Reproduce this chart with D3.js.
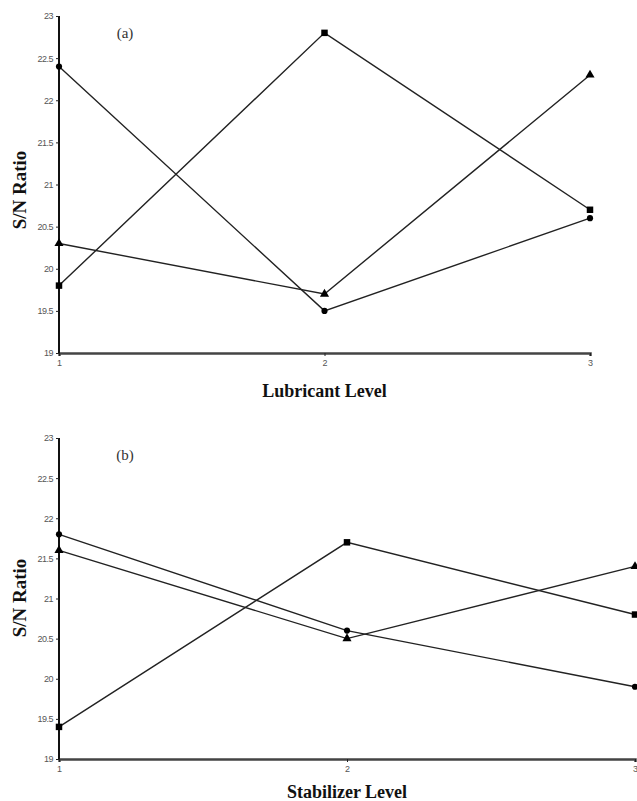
<!DOCTYPE html>
<html>
<head>
<meta charset="utf-8">
<script src="https://cdn.jsdelivr.net/npm/d3@7"></script>
<style>
  body { margin: 0; background: #fff; }
  .tick text { font-family: "Liberation Sans", Arial, sans-serif; fill: #555; }
</style>
</head>
<body>
<div id="chart"></div>
<script>
// ===========Data
var levels = [1, 2, 3];
var yTicks = [19, 19.5, 20, 20.5, 21, 21.5, 22, 22.5, 23];

// panel (a) - Lubricant Level
var lubCircle = [22.4, 19.5, 20.6];
var lubSquare = [19.8, 22.8, 20.7];
var lubTriangle = [20.3, 19.7, 22.3];

// panel (b) - Stabilizer Level
var stabCircle = [21.8, 20.6, 19.9];
var stabSquare = [19.4, 21.7, 20.8];
var stabTriangle = [21.6, 20.5, 21.4];

var svgWidth = 637;
var svgHeight = 801;

var svg = d3.select("#chart").append("svg")
    .attr("width", svgWidth)
    .attr("height", svgHeight);

var panels = [
    {tag: "(a)", xTitle: "Lubricant Level", left: 59, right: 590, top: 16, bottom: 353,
     yTitleMid: 190, xTitleGap: 44,
     series: [{v: lubCircle, m: "circle"}, {v: lubSquare, m: "square"}, {v: lubTriangle, m: "triangle"}]},
    {tag: "(b)", xTitle: "Stabilizer Level", left: 59, right: 635, top: 438, bottom: 759,
     yTitleMid: 598, xTitleGap: 39,
     series: [{v: stabCircle, m: "circle"}, {v: stabSquare, m: "square"}, {v: stabTriangle, m: "triangle"}]}
];

var symbols = {
    circle: d3.symbol().type(d3.symbolCircle).size(30),
    square: d3.symbol().type(d3.symbolSquare).size(42),
    triangle: d3.symbol().type(d3.symbolTriangle).size(36)
};

panels.forEach(function(p) {
    var x = d3.scaleLinear().domain([1, 3]).range([p.left, p.right]);
    var y = d3.scaleLinear().domain([19, 23]).range([p.bottom, p.top]);

    var g = svg.append("g");

    // x axis
    var xAxis = g.append("g")
        .attr("transform", `translate(0, ${p.bottom})`)
        .call(d3.axisBottom(x).tickValues(levels).tickSize(3).tickPadding(4).tickFormat(d3.format("d")));
    xAxis.select(".domain").attr("stroke", "#444").attr("stroke-width", 2.5);
    xAxis.selectAll(".tick line").attr("stroke", "#222");
    xAxis.selectAll(".tick text").attr("font-size", 9);

    // y axis
    var yAxis = g.append("g")
        .attr("transform", `translate(${p.left}, 0)`)
        .call(d3.axisLeft(y).tickValues(yTicks).tickSize(3).tickPadding(3).tickFormat(d => String(d)));
    yAxis.select(".domain").attr("stroke", "#111").attr("stroke-width", 2).attr("d", `M0,${p.top}V${p.bottom}`);
    yAxis.selectAll(".tick line").attr("stroke", "#222");
    yAxis.selectAll(".tick text").attr("font-size", 9).attr("letter-spacing", "-0.5px");

    // lines
    var line = d3.line()
        .x((d, i) => x(levels[i]))
        .y(d => y(d));

    p.series.forEach(function(s) {
        g.append("path")
            .datum(s.v)
            .attr("d", line)
            .attr("fill", "none")
            .attr("stroke", "#222")
            .attr("stroke-width", 1.4);
    });

    p.series.forEach(function(s) {
        g.selectAll(null)
            .data(s.v)
            .enter()
            .append("path")
            .attr("d", symbols[s.m])
            .attr("transform", (d, i) => `translate(${x(levels[i])}, ${y(d)})`)
            .attr("fill", "#000");
    });

    // panel tag
    g.append("text")
        .attr("x", p.left + 66)
        .attr("y", p.top + 22)
        .attr("text-anchor", "middle")
        .attr("font-family", "Liberation Serif, serif")
        .attr("font-size", 15)
        .attr("fill", "#333")
        .text(p.tag);

    // axis titles
    g.append("text")
        .attr("transform", "rotate(-90)")
        .attr("x", -p.yTitleMid)
        .attr("y", 26)
        .attr("text-anchor", "middle")
        .attr("font-family", "Liberation Serif, serif")
        .attr("font-weight", "bold")
        .attr("font-size", 19)
        .attr("fill", "#111")
        .text("S/N Ratio");

    g.append("text")
        .attr("x", x(2))
        .attr("y", p.bottom + p.xTitleGap)
        .attr("text-anchor", "middle")
        .attr("font-family", "Liberation Serif, serif")
        .attr("font-weight", "bold")
        .attr("font-size", 18)
        .attr("fill", "#111")
        .text(p.xTitle);
});
</script>
</body>
</html>
